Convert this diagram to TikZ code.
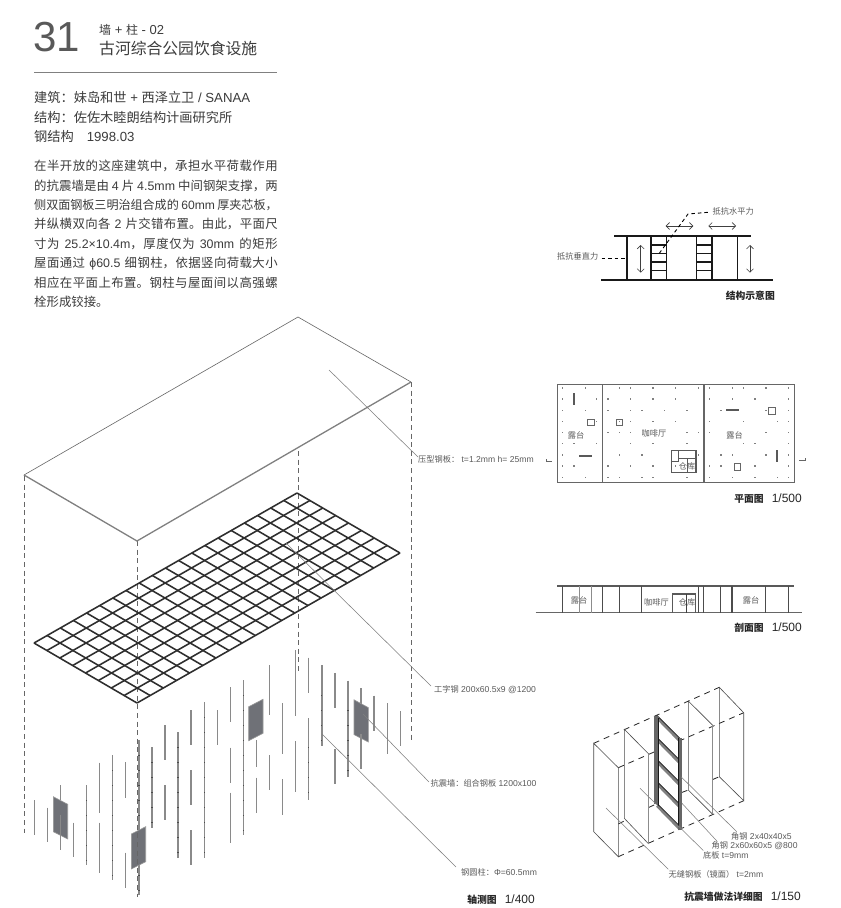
\documentclass[tikz,border=0pt]{standalone}
\usepackage{fontspec}
\usetikzlibrary{arrows.meta}
\setmainfont{Liberation Sans}
\newfontfamily\cjk{Noto Sans CJK SC}
\newcommand\zh[1]{{\cjk #1}}
\newcommand\zl[1]{{\fontsize{8.2}{10}\cjk #1}}
\newcommand\scl[1]{\hspace{8pt}{\fontsize{12}{12}\selectfont\mdseries #1}}
\definecolor{txt}{HTML}{3C3C3C}
\definecolor{lbl}{HTML}{5A5A5A}
\definecolor{wallc}{HTML}{6F7177}
\definecolor{colc}{HTML}{8A8A8A}
\definecolor{gridc}{HTML}{2E2E2E}
\newcommand\colm[3]{%
  \pgfmathsetmacro\cx{34.3+13.07*#1}%
  \draw[colline] (\cx,#2) -- (\cx,#3);%
  \pgfmathtruncatemacro\longseg{(#3-#2)>=70 ? 1 : 0}%
  \ifnum\longseg=1
    \pgfmathsetmacro\firsty{5+7.5*#1+15*ceil((#2-5-7.5*#1)/15)+15}%
    \foreach \n in {0,...,14}{%
      \pgfmathsetmacro\ty{\firsty+15*\n}%
      \pgfmathtruncatemacro\inseg{\ty<(#3-3) ? 1 : 0}%
      \ifnum\inseg=1 \fill[black!70] (\cx-.65,\ty-.5) rectangle ++(1.3,1); \fi
    }%
  \fi
}
\tikzset{
  x=1pt,y=-1pt,
  lab/.style={anchor=west,inner sep=0pt,text=lbl,font=\fontsize{8.6}{10}\selectfont},
  captext/.style={anchor=east,inner sep=0pt,text=black!85,font=\fontsize{9.8}{12}\selectfont\bfseries},
  hd/.style={anchor=west,inner sep=0pt,text=txt},
  colline/.style={draw=colc,line width=1.35pt},
  axisline/.style={draw=black!60,line width=.85pt,dash pattern=on 5pt off 3.6pt},
  leader/.style={draw=black!50,line width=.55pt},
  gridline/.style={draw=gridc,line width=1.55pt},
  panelface/.style={fill=wallc,draw=black!40,line width=.6pt},
  heavy/.style={draw=black!90,line width=1.45pt},
  planline/.style={draw=black!60,line width=1pt},
  seclineA/.style={draw=black!70,line width=1.1pt},
  seclineB/.style={draw=black!45,line width=.8pt},
  thinline/.style={draw=black!70,line width=.6pt},
  dashl/.style={draw=black!85,line width=.8pt,dash pattern=on 6pt off 5pt},
  flatlab/.style={anchor=center,inner sep=0pt,text=lbl,font=\fontsize{8.2}{10}\selectfont},
  arrowl/.style={draw=black!75,line width=.6pt,{Straight Barb[length=3.5pt,width=7pt]}-{Straight Barb[length=3.5pt,width=7pt]}},
}
\begin{document}
\begin{tikzpicture}
\useasboundingbox (0,0) rectangle (841,908);
\fill[white] (0,0) rectangle (841,908);

% --- heading
\node[hd,font=\fontsize{42}{42}\selectfont,text=black!65] (num) at (33,37) {31};
\node[hd,font=\fontsize{13}{14}\selectfont] (kind) at (99,30) {{\fontsize{12}{14}\cjk 墙} + {\fontsize{12}{14}\cjk 柱} - 02};
\node[hd,font=\fontsize{15.8}{18}\cjk] (title) at (99,48) {古河综合公园饮食设施};
\draw[draw=black!50,line width=.6pt] (34,72) -- (277,72);
\node[hd,font=\fontsize{13.2}{15}\selectfont] (a1) at (34,97.5) {\zh{建筑：妹岛和世} + \zh{西泽立卫} / SANAA};
\node[hd,font=\fontsize{13.2}{15}\selectfont] (a2) at (34,117) {\zh{结构：佐佐木睦朗结构计画研究所}};
\node[hd,font=\fontsize{13.2}{15}\selectfont] (a3) at (34,136.5) {\zh{钢结构}\hspace{13pt}1998.03};
\node[anchor=north west,inner sep=0pt,text=txt,text width=243.5pt,align=justify,
      font=\fontsize{12.4}{19.4}\selectfont] (para) at (34,160) {%
\XeTeXlinebreaklocale "zh"\XeTeXlinebreakskip=0pt plus 1pt minus .2pt\relax
\tolerance=9999\hbadness=10000\spaceskip=.22em plus .3em minus .1em\relax
\zh{在半开放的这座建筑中，承担水平荷载作用}\linebreak
\zh{的抗震墙是由} 4 \zh{片} 4.5mm \zh{中间钢架支撑，两}\linebreak
{\fontsize{12.1}{19.4}\selectfont\zh{侧双面钢板三明治组合成的} 60mm \zh{厚夹芯板，}\hspace{-5pt}}\linebreak
\zh{并纵横双向各} 2 \zh{片交错布置。由此，平面尺}\linebreak
\zh{寸为} 25.2×10.4m\zh{，厚度仅为} 30mm \zh{的矩形}\linebreak
\zh{屋面通过} ϕ60.5 \zh{细钢柱，依据竖向荷载大小}\linebreak
\zh{相应在平面上布置。钢柱与屋面间以高强螺}\linebreak
\zh{栓形成铰接。}};

% --- columns behind the walls
\colm{0}{800}{835}
\colm{1}{807.7}{842.3}
\colm{2}{785}{800}
\colm{3}{822.7}{857.3}
\colm{4}{785}{865}
\colm{5}{762.7}{812.7}\colm{5}{822.7}{872.7}
\colm{6}{755}{880}
\colm{7}{762.3}{797.7}\colm{7}{852.7}{887.7}
\colm{8}{740}{895}
\colm{9}{747.3}{827.7}
\colm{10}{725}{760}\colm{10}{785}{820}
\colm{11}{732.3}{857.7}
\colm{12}{710}{745}\colm{12}{770}{805}\colm{12}{830}{865}
\colm{13}{702.3}{857.7}
\colm{14}{710}{745}
\colm{15}{687.3}{722.3}\colm{15}{747.7}{782.7}\colm{15}{792.7}{842.7}
\colm{16}{680}{835}
\colm{17}{740}{767.3}\colm{17}{777.7}{812.7}
\colm{18}{665}{715}\colm{18}{755}{790}
\colm{19}{703}{753.9}\colm{19}{779}{815}
\colm{20}{650}{715.7}\colm{20}{741.4}{792}
\colm{21}{657.6}{692.7}\colm{21}{718.4}{799.5}
\colm{22}{665.3}{746.4}
\colm{23}{672.8}{708.2}\colm{23}{748.8}{784.3}
\colm{24}{680.5}{776.8}
\colm{25}{688}{769}
\colm{26}{695.7}{731.2}
\colm{27}{703.2}{753.9}
\colm{28}{711}{746.4}
% --- walls
\draw[panelface] (53.3,796.7) -- (67.7,804.3) -- (67.7,839) -- (53.3,831.7) -- cycle;
\draw[panelface] (131.3,834) -- (145.7,826.7) -- (145.7,861.7) -- (131.3,869) -- cycle;
\draw[panelface] (248.7,706.7) -- (263,699.3) -- (263,733.3) -- (248.7,740.7) -- cycle;
\draw[panelface] (354,699.8) -- (368.3,707.6) -- (368.3,742) -- (354,734.6) -- cycle;
\colm{2}{815}{850}
\colm{25}{734}{769}

% --- dashed axes
\draw[axisline] (24,476) -- (24,833);
\draw[axisline] (137,541) -- (137,897);
\draw[axisline] (298,451) -- (298,674);
\draw[axisline] (411,382) -- (411,740);

% --- roof
\coordinate (rt) at (298,317); \coordinate (rr) at (411,382);
\coordinate (rb) at (137,541); \coordinate (rl) at (24,475);
\draw[draw=black!60,line width=.6pt] (rl) -- (rt) -- (rr);
\draw[draw=black!50,line width=1.3pt] (rl) -- (rb) -- (rr);

% --- beam grid
\foreach \i in {0,...,20}{
  \pgfmathsetmacro\xa{297-13.15*\i}\pgfmathsetmacro\ya{493+7.5*\i}
  \draw[gridline] (\xa,\ya) -- ++(103,60);
}
\foreach \j in {0,...,8}{
  \pgfmathsetmacro\xa{297+12.875*\j}\pgfmathsetmacro\ya{493+7.5*\j}
  \draw[gridline] (\xa,\ya) -- ++(-263,150);
}

% --- leaders, axonometric
\node[lab] (l1) at (418,459) {\zl{压型钢板：} t=1.2mm h= 25mm};
\node[lab] (l2) at (434,690) {\zl{工字钢} 200x60.5x9 @1200};
\node[lab] (l3) at (430.5,783) {\zl{抗震墙：组合钢板} 1200x100};
\node[lab] (l4) at (461,872) {\zl{钢圆柱：}Φ=60.5mm};
\coordinate (s1) at (329,370); \coordinate (e1) at (418,457);
\coordinate (s2) at (286,543); \coordinate (e2) at (431,686);
\coordinate (s3) at (363,714); \coordinate (e3) at (429,782);
\coordinate (s4) at (322,734); \coordinate (e4) at (456,867);
\draw[leader] (s1) -- (e1);
\draw[leader] (s2) -- (e2);
\draw[leader] (s3) -- (e3);
\draw[leader] (s4) -- (e4);
\node[captext] (c1) at (535,900) {\zh{轴测图}\scl{1/400}};

% --- structural scheme
\draw[heavy] (614,236) -- (750.7,236);
\draw[heavy] (601,280) -- (772.7,280);
\foreach \x in {627,651,666.3,696.7,712,737.3}{\draw[heavy] (\x,236) -- (\x,280);}
\foreach \y in {245,253.3,262,270.7}{
  \draw[heavy] (651,\y) -- (666.3,\y);
  \draw[heavy] (696.7,\y) -- (712,\y);
}
\draw[arrowl] (640.7,245) -- (640.7,272.7);
\draw[arrowl] (750,245) -- (750,272.7);
\draw[arrowl] (665.7,226) -- (693.3,226);
\draw[arrowl] (708.3,226) -- (736,226);
\node[lab] (f1) at (712.5,211) {\zl{抵抗水平力}};
\node[lab] (f2) at (557,256) {\zl{抵抗垂直力}};
\coordinate (d1) at (659.3,253.3); \coordinate (d2) at (688,214); \coordinate (d3) at (708,212.3);
\coordinate (d4) at (601.7,258.3); \coordinate (d5) at (627,258.3);
\draw[draw=black,line width=.9pt,dash pattern=on 3.5pt off 3pt] (d1) -- (d2) -- (d3);
\draw[draw=black,line width=.9pt,dash pattern=on 3.5pt off 3pt] (d4) -- (d5);
\node[captext] (c2) at (775,296) {\zh{结构示意图}};

% --- plan
\draw[planline] (557,384.3) rectangle (794.3,482.3);
\draw[planline,line width=1.1pt] (602.3,384.3) -- (602.3,482.3);
\draw[planline,line width=1.1pt] (704,384.3) -- (704,482.3);
\foreach \j/\lst in {0/{0,2,5,6,8,10,12,13,15,16,18,20},
 1/{0,3,4,6,8,10,13,15,17,20},
 2/{0,2,4,6,7,9,11,14,18,20},
 3/{0,3,5,6,8,10,13,16,19,20},
 4/{0,4,5,6,11,12,13,18,20},
 5/{0,1,3,6,8,11,16,17,20},
 6/{0,5,7,12,14,15,18,20},
 7/{0,1,4,6,8,10,13,14,17,20},
 8/{0,2,4,5,7,8,11,13,15,17,19,20}}{
  \foreach \i in \lst {
    \fill[black!50] ({562.7+11.3*\i-.7},{388+11.15*\j-.7}) rectangle ++(1.4,1.4);
  }
}
\foreach \a/\b/\c/\d in {574/393/574/405, 579/456/592/456, 726/410/739/410, 777/450/777/462}{
  \draw[draw=black!65,line width=1.6pt] (\a,\b) -- (\c,\d);
}
\foreach \a/\b in {587.5/419,616/419,768.5/407.5,734/463.5}{
  \draw[draw=black!60,line width=.9pt] (\a,\b) rectangle ++(6.6,6.6);
}
\draw[draw=black!65,line width=1.1pt] (671.7,450.3) rectangle (696,472.3);
\draw[draw=black!65,line width=.9pt] (678.3,450.3) -- (678.3,461.7) -- (671.7,461.7);
\draw[draw=black!65,line width=.9pt] (678.3,458.3) -- (696,458.3);
\draw[draw=black!65,line width=.9pt] (687.3,458.3) -- (687.3,472.3);
\node[flatlab] (p1) at (576,435) {\zh{露台}};
\node[flatlab] (p2) at (654,433) {\zh{咖啡厅}};
\node[flatlab] (p3) at (734.5,435) {\zh{露台}};
\node[flatlab] (p4) at (687,466) {\zh{仓库}};
\draw[draw=black!60,line width=.6pt] (546.7,459) -- (546.7,461.7) -- (551.7,461.7);
\draw[draw=black!60,line width=.6pt] (799.3,460.7) -- (805,460.7) -- (805,458);
\node[captext] (c3) at (802,499) {\zh{平面图}\scl{1/500}};

% --- section
\draw[draw=black!65,line width=1.2pt] (557.3,586) -- (794.3,586);
\draw[draw=black!60,line width=.9pt] (535.7,612.5) -- (801.7,612.5);
\foreach \X in {98,606,707}{\draw[draw=black!70,line width=1.2pt] ({530+\X/3},586) -- ({530+\X/3},612.5);}
\foreach \X in {217,267,335,505,521,572,775}{\draw[seclineA,line width=.9pt] ({530+\X/3},586) -- ({530+\X/3},612.5);}
\foreach \X in {148,183}{\draw[seclineB] ({530+\X/3},586) -- ({530+\X/3},612.5);}
\draw[draw=black!65,line width=1.1pt] (672.3,612.5) -- (672.3,594) -- (695.7,594) -- (695.7,612.5);
\draw[draw=black!75,line width=1.1pt] (686.7,594) -- (686.7,612.5);
\node[flatlab] (q1) at (579,600.5) {\zh{露台}};
\node[flatlab] (q2) at (656.5,602.5) {\zh{咖啡厅}};
\node[flatlab] (q3) at (687,602.5) {\zh{仓库}};
\node[flatlab] (q4) at (751,600.5) {\zh{露台}};
\node[captext] (c4) at (802,628) {\zh{剖面图}\scl{1/500}};

% --- detail of wall: dashed links
\draw[dashl] (593.7,743.3) -- (719.3,687.3);
\draw[dashl] (618.3,767.7) -- (743.7,712.7);
\draw[dashl] (618.3,856.7) -- (743.7,800.7);
\draw[dashl] (618.3,824) -- (624.3,821);
\draw[dashl] (648.7,807.5) -- (655,804.5);
\draw[dashl] (681.7,792.5) -- (688.3,790);
\draw[dashl] (712.7,779.5) -- (719.3,776.7);
% plates
\draw[thinline] (593.7,743.3) -- (618.3,767.7) -- (618.3,856.7) -- (593.7,831.7) -- cycle;
\draw[thinline] (648.7,754) -- (624.3,729.3) -- (624.3,818.3) -- (648.7,844);
\draw[seclineB,line width=1.1pt] (648.7,754) -- (648.7,844);
\draw[thinline] (712.7,725.3) -- (688.3,701) -- (688.3,790) -- (712.7,814.3);
\draw[seclineB,line width=1.1pt] (712.7,725.3) -- (712.7,814.3);
\draw[thinline] (719.3,687.3) -- (743.7,712.7) -- (743.7,800.7) -- (719.3,776.7) -- cycle;
% frame
\fill[white] (655,716) -- (681.7,739.5) -- (681.7,829.3) -- (655,804) -- cycle;
\foreach \d in {0,22,44,66,88}{
  \draw[draw=black!50,line width=2.6pt] (657,{717.8+\d}) -- (679.5,{740.8+\d});
  \draw[draw=black!90,line width=1pt] (657,{715.5+\d}) -- (681,{739.5+\d});
}
\fill[black!60] (654.3,716) rectangle (658.8,804);
\fill[black!60] (678,738) rectangle (682.3,829.5);
\draw[draw=black!90,line width=.7pt] (658.8,718) -- (658.8,806);
\draw[draw=black!90,line width=.7pt] (678,738) -- (678,826);
% leaders and labels
\node[lab] (w1) at (731,836) {\zl{角钢} 2x40x40x5};
\node[lab] (w2) at (711.5,846) {\zl{角钢} 2x60x60x5 @800};
\node[lab] (w3) at (703,855) {\zl{底板} t=9mm};
\node[lab] (w4) at (668.5,874) {\zl{无缝钢板（镜面）} t=2mm};
\coordinate (t1) at (681,776.7); \coordinate (u1) at (736.7,831.7);
\coordinate (t2) at (681.7,803); \coordinate (u2) at (717.3,841.5);
\coordinate (t3) at (640,788.3); \coordinate (u3) at (703.3,850.5);
\coordinate (t4) at (606,808);   \coordinate (u4) at (668.3,869.3);
\draw[leader] (t1) -- (u1);
\draw[leader] (t2) -- (u2);
\draw[leader] (t3) -- (u3);
\draw[leader] (t4) -- (u4);
\node[captext] (c5) at (801,897) {\zh{抗震墙做法详细图}\scl{1/150}};
\end{tikzpicture}
\end{document}
